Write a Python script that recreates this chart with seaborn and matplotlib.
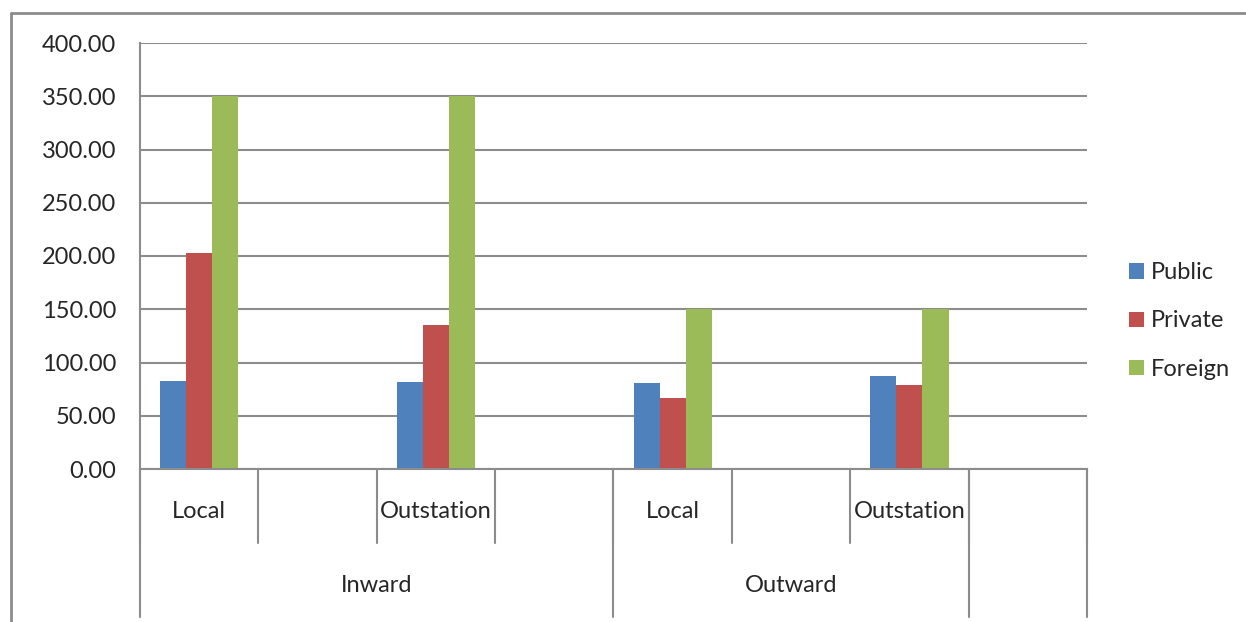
import numpy as np
import pandas as pd
import seaborn as sns
from matplotlib import pyplot as plt
from matplotlib.patches import Patch
from matplotlib.lines import Line2D
from matplotlib.transforms import blended_transform_factory

# data
categories = ['Local', 'Outstation', 'Local', 'Outstation']
directions = ['Inward', 'Inward', 'Outward', 'Outward']
sectors = ['Public', 'Private', 'Foreign']
public = [83, 82, 81, 87]
private = [203, 135, 67, 79]
foreign = [350, 350, 150, 150]
colors = ['#4F81BD', '#C0504D', '#9BBB59']

# excel-style axis: every category followed by an empty slot
slot_order = []
for d, c in zip(directions, categories):
    slot_order += [d + '|' + c, d + '|' + c + '|blank']

rows = []
for i, (d, c) in enumerate(zip(directions, categories)):
    for s, vals in zip(sectors, [public, private, foreign]):
        rows.append({'slot': d + '|' + c, 'sector': s, 'value': vals[i]})
df = pd.DataFrame(rows)

sns.set_style('white')
plt.rcParams['font.family'] = ['Lato', 'DejaVu Sans']
grey = '#8c8c8c'
fs = 17

W, H = 1246, 622
fig = plt.figure(figsize=(W / 100, H / 100), dpi=100)
ax = fig.add_axes([140 / W, (H - 469) / H, (1087 - 140) / W, 426 / H])

sns.barplot(data=df, x='slot', y='value', hue='sector', order=slot_order,
            hue_order=sectors, palette=colors, width=0.66, saturation=1,
            linewidth=0, legend=False, ax=ax)

ax.set_xlim(-0.5, len(slot_order) - 0.5)
ax.set_ylim(0, 400)
ax.set_yticks(np.arange(0, 401, 50))
ax.yaxis.set_major_formatter('{x:.2f}')
ax.grid(axis='y', color=grey, lw=1.5)
ax.set_axisbelow(True)
ax.tick_params(axis='y', length=6, color=grey, width=1.5, labelsize=fs, pad=11)
ax.set_xticks([])
ax.set_xlabel('')
ax.set_ylabel('')
for side in ['top', 'right']:
    ax.spines[side].set_visible(False)
for side in ['left', 'bottom']:
    ax.spines[side].set_color(grey)
    ax.spines[side].set_linewidth(1.5)

# multi-level category axis
trans = blended_transform_factory(ax.transData, ax.transAxes)
lvl1 = -74 / 426
lvl2 = -148 / 426
for b in np.arange(-0.5, len(slot_order), 1.0):
    ax.plot([b, b], [0, lvl1], transform=trans, clip_on=False, color=grey, lw=1.5)
for b in [-0.5, 3.5, 6.5, 7.5]:
    ax.plot([b, b], [0, lvl2], transform=trans, clip_on=False, color=grey, lw=1.5)

for i, c in enumerate(categories):
    ax.text(2 * i, -43 / 426, c, transform=trans, ha='center', va='center', fontsize=fs)
ax.text(1.5, -116 / 426, 'Inward', transform=trans, ha='center', va='center', fontsize=fs)
ax.text(5.0, -116 / 426, 'Outward', transform=trans, ha='center', va='center', fontsize=fs)

handles = [Patch(facecolor=c, edgecolor='none') for c in colors]
fig.legend(handles, sectors, loc='center left', bbox_to_anchor=(1129 / W, 1 - 321 / H),
           frameon=False, fontsize=fs, handlelength=0.62, handleheight=0.62,
           handletextpad=0.3, labelspacing=1.15, borderpad=0, borderaxespad=0)

# chart area border (only top and left visible in the crop)
fig.add_artist(Line2D([11 / W, 1], [1 - 13 / H, 1 - 13 / H], transform=fig.transFigure, color=grey, lw=2))
fig.add_artist(Line2D([11 / W, 11 / W], [0, 1 - 13 / H], transform=fig.transFigure, color=grey, lw=2))

fig.savefig('out.png', dpi=100)
